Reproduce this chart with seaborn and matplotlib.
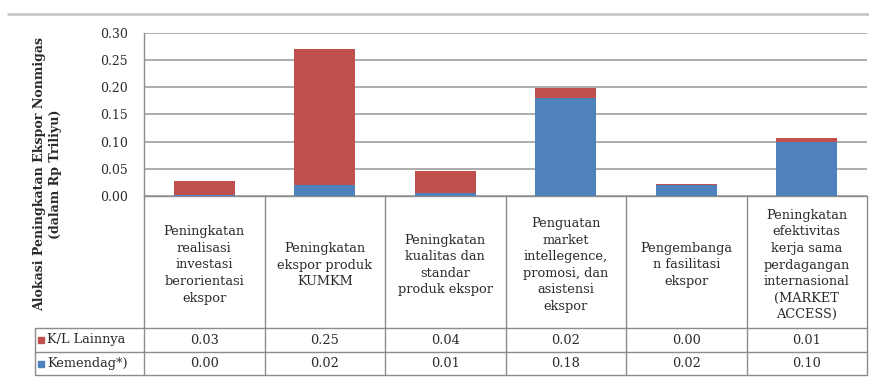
import matplotlib
matplotlib.use("Agg")
import matplotlib.pyplot as plt
import pandas as pd
import seaborn as sns

# data (Rp Triliun)
kategori = [
    "Peningkatan\nrealisasi\ninvestasi\nberorientasi\nekspor",
    "Peningkatan\nekspor produk\nKUMKM",
    "Peningkatan\nkualitas dan\nstandar\nproduk ekspor",
    "Penguatan\nmarket\nintellegence,\npromosi, dan\nasistensi\nekspor",
    "Pengembanga\nn fasilitasi\nekspor",
    "Peningkatan\nefektivitas\nkerja sama\nperdagangan\ninternasional\n(MARKET\nACCESS)",
]
kl_lainnya = [0.026, 0.250, 0.040, 0.018, 0.003, 0.006]
kemendag = [0.001, 0.020, 0.006, 0.180, 0.020, 0.100]
seri = ["K/L Lainnya", "Kemendag*)"]
yticks = [0.00, 0.05, 0.10, 0.15, 0.20, 0.25, 0.30]
ylabel = "Alokasi Peningkatan Ekspor Nonmigas\n(dalam Rp Triliyu)"

RED = "#C0504D"
BLUE = "#4F81BD"
GRID = "#a6a6a6"
LINE = "#8c8c8c"
TXT = "#2a2a2a"

df = pd.DataFrame({"kategori": kategori, "kl": kl_lainnya, "kemendag": kemendag})
df["total"] = df["kl"] + df["kemendag"]

sns.set_theme(style="white")
plt.rcParams["font.family"] = ["DejaVu Serif"]

W, H = 869, 377
fig = plt.figure(figsize=(W / 100, H / 100), dpi=100)


def box(l, t, r, b):
    return [l / W, 1 - b / H, (r - l) / W, (b - t) / H]


# plot area
L, R, T, B = 144, 867, 33, 196
ax = fig.add_axes(box(L, T, R, B))
sns.barplot(data=df, x="kategori", y="total", color=RED, saturation=1,
            width=0.51, linewidth=0, ax=ax, zorder=3)
sns.barplot(data=df, x="kategori", y="kemendag", color=BLUE, saturation=1,
            width=0.51, linewidth=0, ax=ax, zorder=3)
ax.set_xlim(-0.5, len(kategori) - 0.5)
ax.set_ylim(0, 0.30)
ax.set_yticks(yticks)
ax.set_yticklabels([f"{v:.2f}" for v in yticks], fontsize=9, color=TXT)
ax.set_xticks([])
ax.set_xlabel("")
ax.set_ylabel("")
ax.yaxis.grid(True, color=GRID, lw=1.3)
ax.set_axisbelow(True)
ax.tick_params(axis="y", length=0, pad=11.5)
for s in ["top", "right"]:
    ax.spines[s].set_visible(False)
for s in ["left", "bottom"]:
    ax.spines[s].set_color(LINE)
    ax.spines[s].set_linewidth(1)

# data table underneath, drawn in pixel coordinates
tab = fig.add_axes([0, 0, 1, 1])
tab.set_xlim(0, W)
tab.set_ylim(H, 0)
tab.axis("off")
tab.patch.set_visible(False)

n = len(kategori)
edges = [L + i * (R - L) / n for i in range(n + 1)]
centers = [(edges[i] + edges[i + 1]) / 2 for i in range(n)]
row_top, row_mid, row_bot = 328, 352, 375
lab_left = 35

for x in edges:
    tab.plot([x, x], [B, row_bot], color=LINE, lw=1)
tab.plot([lab_left, lab_left], [row_top, row_bot], color=LINE, lw=1)
for y in [row_top, row_mid, row_bot]:
    tab.plot([lab_left, R], [y, y], color=LINE, lw=1)

for cx, name in zip(centers, kategori):
    tab.text(cx, 265, name, ha="center", va="center", fontsize=9.3,
             linespacing=1.36, color=TXT)

rows = [(seri[0], RED, kl_lainnya, (row_top + row_mid) / 2),
        (seri[1], BLUE, kemendag, (row_mid + row_bot) / 2)]
for name, col, vals, yc in rows:
    tab.plot([41], [yc], marker="s", ms=4.5, color=col, ls="none")
    tab.text(47, yc, name, ha="left", va="center", fontsize=9.3, color=TXT)
    for cx, v in zip(centers, vals):
        tab.text(cx, yc, f"{v:.2f}", ha="center", va="center", fontsize=9.3, color=TXT)

# axis title and top rule
tab.text(48, 174, ylabel, rotation=90, ha="center", va="center",
         fontsize=9.1, fontweight="bold", color=TXT, linespacing=1.3)
tab.plot([8, W], [14, 14], color="#c8c8c8", lw=2)

fig.savefig("out.png", dpi=100)
